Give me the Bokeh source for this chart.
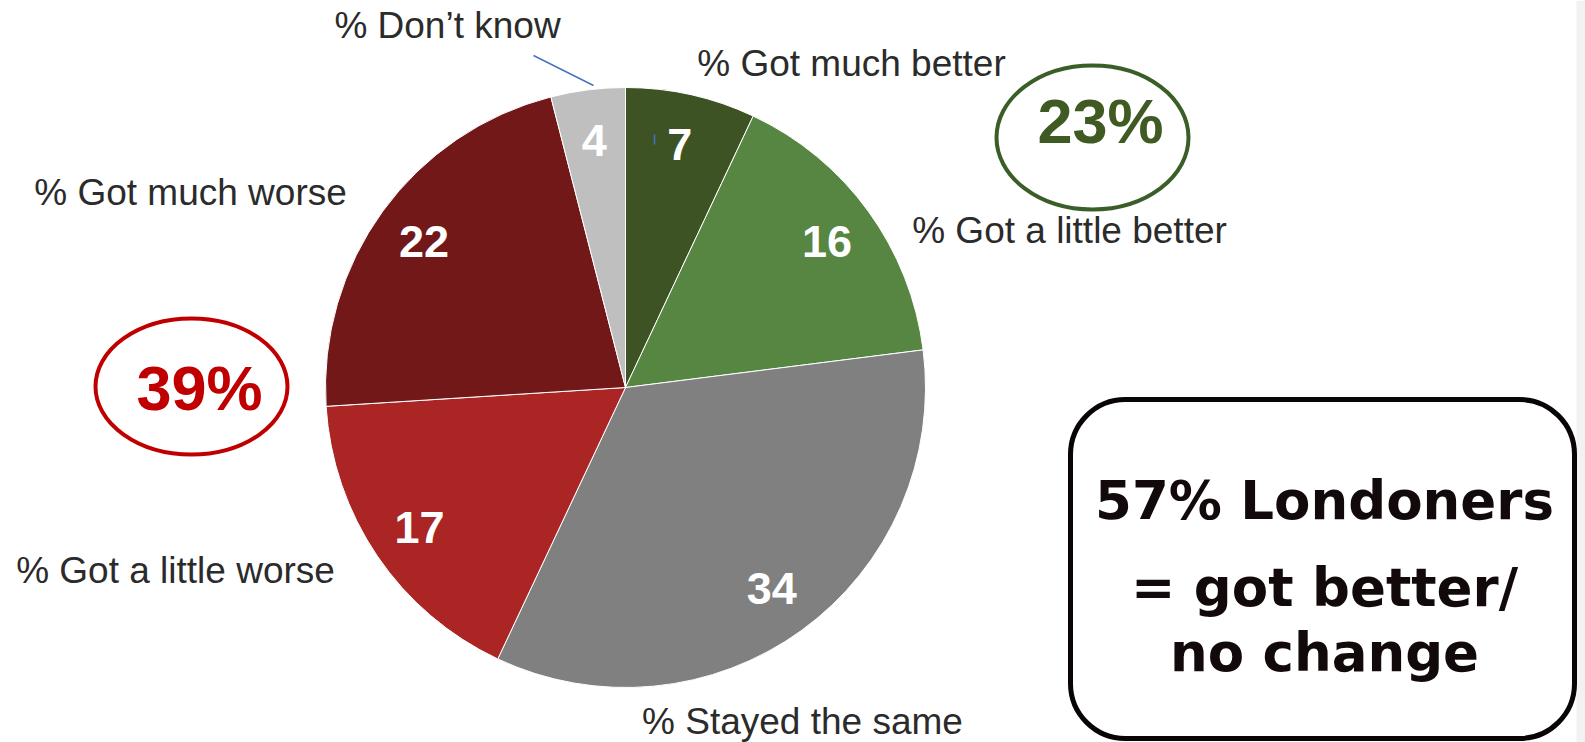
import math
from bokeh.plotting import figure
from bokeh.models import Range1d, BoxAnnotation
from bokeh.core.properties import value
from bokeh.embed import file_html
from bokeh.resources import INLINE

# ---- data ----
categories = ["% Got much better", "% Got a little better", "% Stayed the same",
              "% Got a little worse", "% Got much worse", "% Don\u2019t know"]
values = [7, 16, 34, 17, 22, 4]
slice_colors = ["#3E5323", "#568642", "#808080", "#AB2525", "#721818", "#BFBFBF"]
better_total = "23%"
worse_total = "39%"
summary_lines = ["57% Londoners", "= got better/", "no change"]

# ---- canvas: data units == picture pixels (y flipped) ----
W, H = 1585, 742
p = figure(width=W, height=H, x_range=Range1d(0, W), y_range=Range1d(0, H),
           output_backend="svg", toolbar_location=None, min_border=0,
           x_axis_location=None, y_axis_location=None)
p.grid.visible = False
p.outline_line_color = None
p.background_fill_color = "white"
p.border_fill_color = "white"


def Y(py):
    return H - py


# light strip at the right edge of the slide
strip = BoxAnnotation(left=1576, right=W, top=H, bottom=0, fill_color="#F2F2F2",
                      fill_alpha=1, line_alpha=0, level="underlay")
p.add_layout(strip)

cx, cy, r = 625, 387, 300
total = sum(values)
starts, ends, lx, ly = [], [], [], []
cum = 0
for v in values:
    a0 = math.pi / 2 - 2 * math.pi * cum / total
    a1 = math.pi / 2 - 2 * math.pi * (cum + v) / total
    starts.append(a0)
    ends.append(a1)
    mid = (a0 + a1) / 2
    lx.append(cx + 0.83 * r * math.cos(mid))
    ly.append(Y(cy) + 0.83 * r * math.sin(mid))
    cum += v

p.wedge(x=cx, y=Y(cy), radius=r, start_angle=starts, end_angle=ends,
        direction="clock", fill_color=slice_colors, line_color="white", line_width=1)

# value labels
p.text(x=lx, y=ly, text=[str(v) for v in values],
       text_font=value("Liberation Sans"), text_font_style="bold", text_font_size="45px",
       text_color="white", text_align="center", text_baseline="middle")

# category labels (x centre, y centre of capitals)
cat_x = [851, 1069, 802, 175, 190, 447]
cat_y = [63, 230, 721, 570, 192, 25]
p.text(x=cat_x, y=[Y(v) for v in cat_y], text=categories,
       text_font=value("Liberation Sans"), text_font_size="37px",
       text_color="#2B2B2B", text_align="center", text_baseline="middle")

# leader lines
p.line([533, 593], [Y(55), Y(85)], line_color="#4472C4", line_width=1.5)
p.line([654, 654], [Y(134), Y(144)], line_color="#4472C4", line_width=1.5)

# ellipses with totals
p.ellipse(x=191, y=Y(386), width=192, height=136, fill_color=None,
          line_color="#C00000", line_width=4)
p.text(x=[199], y=[Y(387)], text=[worse_total], text_font=value("Liberation Sans"),
       text_font_style="bold", text_font_size="63px", text_color="#C00000",
       text_align="center", text_baseline="middle")

p.ellipse(x=1092, y=Y(137), width=192, height=144, fill_color=None,
          line_color="#3A5E27", line_width=4)
p.text(x=[1100], y=[Y(120)], text=[better_total], text_font=value("Liberation Sans"),
       text_font_style="bold", text_font_size="63px", text_color="#3F5A22",
       text_align="center", text_baseline="middle")

# summary box
box = BoxAnnotation(left=1070, right=1574, top=Y(399), bottom=Y(738),
                    border_radius=55, fill_color="white", fill_alpha=1,
                    line_color="#0A0505", line_alpha=1, line_width=5,
                    level="underlay")
p.add_layout(box)
p.text(x=[1324, 1324, 1324], y=[Y(500), Y(587), Y(652)], text=summary_lines,
       text_font=value("DejaVu Sans"), text_font_style="bold", text_font_size="53px",
       text_color="#120A0A", text_align="center", text_baseline="middle")

open("out.html", "w").write(file_html(p, INLINE))
